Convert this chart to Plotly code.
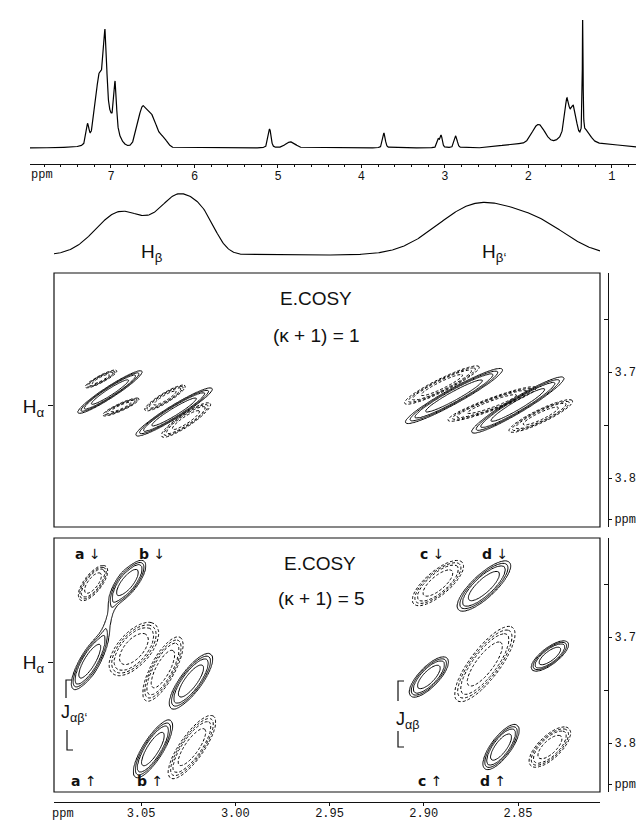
import numpy as np
import plotly.graph_objects as go

W, H = 644, 821

# ---------------- DATA ----------------
# Top 1D 1H spectrum: peak list
# (position ppm, height in px above baseline, half-width ppm, Lorentzian fraction)
spec_peak_ppm = [7.28, 7.14, 7.07, 6.95, 7.02, 6.62, 6.50, 6.38, 5.10, 4.85, 3.73,
                 3.08, 3.045, 2.87, 2.15, 1.88, 1.55, 1.54, 1.46, 1.35, 1.30, 1.05]
spec_peak_height = [20, 62, 72, 46, 25, 40, 26, 10, 19, 6, 15,
                    8, 12, 12, 4, 21, 6, 40, 30, 122, 12, 3]
spec_peak_hwhm = [0.02, 0.06, 0.022, 0.018, 0.10, 0.07, 0.06, 0.06, 0.02, 0.07, 0.018,
                  0.016, 0.016, 0.02, 0.2, 0.09, 0.2, 0.035, 0.04, 0.005, 0.06, 0.25]
spec_peak_lorentz = [0.7, 0.3, 0.6, 0.6, 0.0, 0.0, 0.0, 0.0, 0.5, 0.0, 0.5,
                     0.5, 0.5, 0.5, 0.0, 0.0, 0.0, 0.8, 0.3, 0.9, 0.8, 0.0]
spec_ticks = [7, 6, 5, 4, 3, 2, 1]

# Projection trace above the 2D panels (H-beta region)
proj_peak_ppm = [3.0607, 3.0294, 3.0156, 2.8713, 2.8368]
proj_peak_height = [43, 57, 18, 50, 22]
proj_peak_sigma = [0.01326, 0.01061, 0.00637, 0.02122, 0.01592]

# 2D panel 1, (kappa+1)=1 : positive and negative cross-peak components
p1_pos_x = [3.0665, 3.0325, 2.8840, 2.8501]
p1_pos_y = [3.7189, 3.7377, 3.7226, 3.7311]
p1_pos_hx = [0.0170, 0.0202, 0.0257, 0.0244]
p1_pos_hy = [0.0200, 0.0226, 0.0259, 0.0264]
p1_pos_rho = [0.95, 0.95, 0.95, 0.95]
p1_pos_amp = [1.0, 1.0, 1.0, 1.0]

p1_neg_x = [3.0713, 3.0607, 3.0373, 3.0262, 2.8904, 2.8638, 2.8379]
p1_neg_y = [3.7066, 3.7330, 3.7245, 3.7453, 3.7123, 3.7302, 3.7415]
p1_neg_hx = [0.0085, 0.0098, 0.0109, 0.0133, 0.0202, 0.0239, 0.0172]
p1_neg_hy = [0.0085, 0.0085, 0.0123, 0.0165, 0.0184, 0.0165, 0.0156]
p1_neg_rho = [0.90, 0.90, 0.90, 0.90, 0.93, 0.93, 0.90]
p1_neg_amp = [0.9, 0.9, 0.9, 0.9, 0.9, 0.9, 0.9]

# 2D panel 2, (kappa+1)=5
p2_pos_x = [3.0569, 3.0776, 3.0235, 3.0437, 2.8681, 2.8973, 2.8331, 2.8590, 3.0676]
p2_pos_y = [3.6481, 3.7236, 3.7415, 3.8057, 3.6519, 3.7377, 3.7179, 3.8038, 3.6858]
p2_pos_hx = [0.0093, 0.0093, 0.0114, 0.0103, 0.0141, 0.0103, 0.0098, 0.0095, 0.0120]
p2_pos_hy = [0.0203, 0.0259, 0.0259, 0.0269, 0.0236, 0.0189, 0.0142, 0.0212, 0.0700]
p2_pos_rho = [0.75, 0.80, 0.80, 0.80, 0.80, 0.75, 0.75, 0.75, 0.93]
p2_pos_amp = [1.0, 1.0, 1.0, 1.0, 1.0, 1.0, 1.0, 1.0, 0.12]

p2_neg_x = [3.0755, 3.0538, 3.0384, 3.0230, 2.8925, 2.8676, 2.8331]
p2_neg_y = [3.6491, 3.7113, 3.7302, 3.8038, 3.6491, 3.7255, 3.8038]
p2_neg_hx = [0.0077, 0.0130, 0.0106, 0.0125, 0.0135, 0.0159, 0.0109]
p2_neg_hy = [0.0165, 0.0250, 0.0302, 0.0297, 0.0212, 0.0354, 0.0189]
p2_neg_rho = [0.70, 0.60, 0.75, 0.80, 0.75, 0.80, 0.70]
p2_neg_amp = [1.0, 1.0, 1.0, 1.0, 1.0, 1.0, 1.0]

contour_levels = [0.1, 0.15, 0.22, 0.45, 0.85]

f2_range = [3.0962, 2.8065]          # ppm, shared by projection and 2D panels
f1_range = [3.8462, 3.6066]          # ppm (bottom, top)
f2_ticks = [3.05, 3.00, 2.95, 2.90, 2.85]
f2_ticktext = ["3.05", "3.00", "2.95", "2.90", "2.85"]
f1_ticks = [3.7, 3.8, 3.8387]
f1_ticktext = ["3.7", "3.8", "ppm"]
f1_minor = [3.65, 3.75]
halpha_pos = [3.732, 3.7236]

# ---------------- helpers ----------------
def px(x):
    return x / W


def py(y):
    return 1 - y / H


def pseudo_voigt(x, pos, h, w, eta):
    out = np.zeros_like(x)
    for p, a, ww, e in zip(pos, h, w, eta):
        d = (x - p) / ww
        out += a * (e / (1 + d * d) + (1 - e) * np.exp(-np.log(2) * d * d))
    return out


K_OUT = np.sqrt(-2 * np.log(contour_levels[0]))


def peak_sum(X, Y, xs, ys, hxs, hys, rhos, amps):
    Z = np.zeros_like(X)
    for x0, y0, hx, hy, r, a in zip(xs, ys, hxs, hys, rhos, amps):
        u = (X - x0) / (hx / K_OUT)
        v = (Y - y0) / (hy / K_OUT)
        q = (u * u - 2 * r * u * v + v * v) / (1 - r * r)
        Z += a * np.exp(-0.5 * q)
    return Z


def level_index(Z):
    xp = [0.0] + contour_levels + [1e3]
    fp = list(range(len(contour_levels) + 1)) + [len(contour_levels) + 1]
    return np.round(np.interp(Z, xp, fp), 3)


fig = go.Figure()

# ---- top spectrum ----
sx = np.linspace(0.52, 7.97, 4000)
sy = pseudo_voigt(sx, spec_peak_ppm, spec_peak_height, spec_peak_hwhm, spec_peak_lorentz)
fig.add_trace(go.Scatter(x=sx, y=sy, mode="lines", line=dict(color="black", width=1.2),
                         xaxis="x", yaxis="y", hoverinfo="skip"))

# ---- projection ----
gx_p = np.linspace(f2_range[1], f2_range[0], 600)
gy_p = np.zeros_like(gx_p)
for p, a, s in zip(proj_peak_ppm, proj_peak_height, proj_peak_sigma):
    gy_p += a * np.exp(-0.5 * ((gx_p - p) / s) ** 2)
fig.add_trace(go.Scatter(x=gx_p, y=gy_p, mode="lines", line=dict(color="black", width=1.1),
                         xaxis="x2", yaxis="y2", hoverinfo="skip"))

# ---- 2D panels ----
gx = np.linspace(f2_range[1], f2_range[0], 400)
gy = np.linspace(f1_range[1], f1_range[0], 240)
GX, GY = np.meshgrid(gx, gy)


def add_contours(z, xa, ya, dash):
    fig.add_trace(go.Contour(
        x=gx, y=gy, z=level_index(z), autocontour=False,
        contours=dict(start=1, end=len(contour_levels), size=1, coloring="none"),
        line=dict(color="black", width=1, dash=dash, smoothing=1.0),
        showscale=False, hoverinfo="skip", xaxis=xa, yaxis=ya))


z1p = peak_sum(GX, GY, p1_pos_x, p1_pos_y, p1_pos_hx, p1_pos_hy, p1_pos_rho, p1_pos_amp)
z1n = peak_sum(GX, GY, p1_neg_x, p1_neg_y, p1_neg_hx, p1_neg_hy, p1_neg_rho, p1_neg_amp)
z2p = peak_sum(GX, GY, p2_pos_x, p2_pos_y, p2_pos_hx, p2_pos_hy, p2_pos_rho, p2_pos_amp)
z2n = peak_sum(GX, GY, p2_neg_x, p2_neg_y, p2_neg_hx, p2_neg_hy, p2_neg_rho, p2_neg_amp)
add_contours(z1p, "x3", "y3", "solid")
add_contours(z1n, "x3", "y3", "3px,2px")
add_contours(z2p, "x4", "y5", "solid")
add_contours(z2n, "x4", "y5", "3px,2px")

# invisible anchors so that the right-hand ppm axes are drawn
fig.add_trace(go.Scatter(x=[2.95], y=[3.7], mode="markers", marker=dict(opacity=0),
                         xaxis="x3", yaxis="y4", hoverinfo="skip"))
fig.add_trace(go.Scatter(x=[2.95], y=[3.7], mode="markers", marker=dict(opacity=0),
                         xaxis="x4", yaxis="y6", hoverinfo="skip"))

MONO = "Liberation Mono"
SANS = "Liberation Sans"
INK = "#111111"

xd = [px(46), px(592)]
p1_dom = [py(519), py(265)]
p2_dom = [py(784), py(530)]


def right_axis(overlay, dom):
    return dict(overlaying=overlay, domain=dom, side="right", anchor="free", position=px(600),
                range=f1_range, showline=True, linecolor=INK, linewidth=1, ticks="outside",
                ticklen=3, tickcolor=INK, tickvals=f1_ticks, ticktext=f1_ticktext,
                tickfont=dict(family=MONO, size=12, color=INK), showgrid=False, zeroline=False,
                minor=dict(tickvals=f1_minor, ticks="inside", ticklen=4, tickcolor=INK))


fig.update_layout(
    width=W, height=H, margin=dict(l=0, r=0, t=0, b=0), autosize=False,
    paper_bgcolor="white", plot_bgcolor="white", showlegend=False,
    xaxis=dict(domain=[px(22), 1.0], range=[7.97, 0.52], anchor="y", showline=True,
               linecolor=INK, linewidth=1, ticks="outside", ticklen=3, tickcolor=INK,
               tickvals=spec_ticks, tickfont=dict(family=MONO, size=12, color=INK),
               ticklabelstandoff=-2,
               showgrid=False, zeroline=False,
               minor=dict(dtick=0.2, tick0=0, ticks="outside", ticklen=2, tickcolor=INK)),
    yaxis=dict(domain=[py(156), py(12)], range=[-16, 128], visible=False, anchor="x"),
    xaxis2=dict(domain=xd, range=f2_range, visible=False, anchor="y2"),
    yaxis2=dict(domain=[py(250), py(178)], range=[-3, 69], visible=False, anchor="x2"),
    xaxis3=dict(domain=xd, range=f2_range, visible=False, anchor="y3"),
    yaxis3=dict(domain=p1_dom, range=f1_range, anchor="x3", showline=False, ticks="outside",
                ticklen=5, tickcolor=INK, tickvals=[halpha_pos[0]], ticktext=["H<sub>α</sub>"],
                tickfont=dict(family=SANS, size=19, color=INK), showgrid=False, zeroline=False),
    yaxis4=right_axis("y3", p1_dom),
    xaxis4=dict(domain=xd, range=f2_range, anchor="free", position=py(794), showline=True,
                linecolor=INK, linewidth=1, ticks="outside", ticklen=3, tickcolor=INK,
                tickvals=f2_ticks, ticktext=f2_ticktext, ticklabelstandoff=-3,
                tickfont=dict(family=MONO, size=12, color=INK), showgrid=False, zeroline=False),
    yaxis5=dict(domain=p2_dom, range=f1_range, anchor="x4", showline=False, ticks="outside",
                ticklen=5, tickcolor=INK, tickvals=[halpha_pos[1]], ticktext=["H<sub>α</sub>"],
                tickfont=dict(family=SANS, size=19, color=INK), showgrid=False, zeroline=False),
    yaxis6=right_axis("y5", p2_dom),
)

# frames of the 2D panels
for xr, yr in (("x3", "y3"), ("x4", "y5")):
    fig.add_shape(type="rect", xref=f"{xr} domain", yref=f"{yr} domain", x0=0, x1=1, y0=0, y1=1,
                  line=dict(color=INK, width=1.2))


# J coupling brackets
def bracket(xp, y0, y1, top):
    if top:
        path = f"M {px(xp + 6)} {py(y0)} L {px(xp)} {py(y0)} L {px(xp)} {py(y1)}"
    else:
        path = f"M {px(xp)} {py(y0)} L {px(xp)} {py(y1)} L {px(xp + 6)} {py(y1)}"
    fig.add_shape(type="path", xref="paper", yref="paper", path=path,
                  line=dict(color=INK, width=1.2))


bracket(58, 672, 690, True)
bracket(59, 722, 742, False)
bracket(390, 673, 693, True)
bracket(390, 723, 739, False)


def label(text, x, y, size=18, family=SANS):
    fig.add_annotation(text=text, x=px(x), y=py(y), xref="paper", yref="paper",
                       showarrow=False, xanchor="center", yanchor="middle",
                       font=dict(family=family, size=size, color=INK))


label("ppm", 34, 167, 12, MONO)
label("ppm", 55, 806, 12, MONO)
label("H<sub>β</sub>", 144, 245, 19)
label("H<sub>β‘</sub>", 486, 245, 19)
label("E.COSY", 308, 290, 19)
label("(κ + 1) = 1", 308, 327, 19)
label("E.COSY", 312, 555, 19)
label("(κ + 1) = 5", 313, 590, 19)
for t, xx in (("a", 80), ("b", 144), ("c", 424), ("d", 487)):
    label(f"<b>{t}</b> ↓", xx, 546, 14, "DejaVu Sans")
for t, xx in (("a", 76), ("b", 142), ("c", 422), ("d", 485)):
    label(f"<b>{t}</b> ↑", xx, 773, 14, "DejaVu Sans")
label("J<sub>αβ‘</sub>", 66, 705, 18)
label("J<sub>αβ</sub>", 400, 712, 18)

fig.write_html("out.html")
